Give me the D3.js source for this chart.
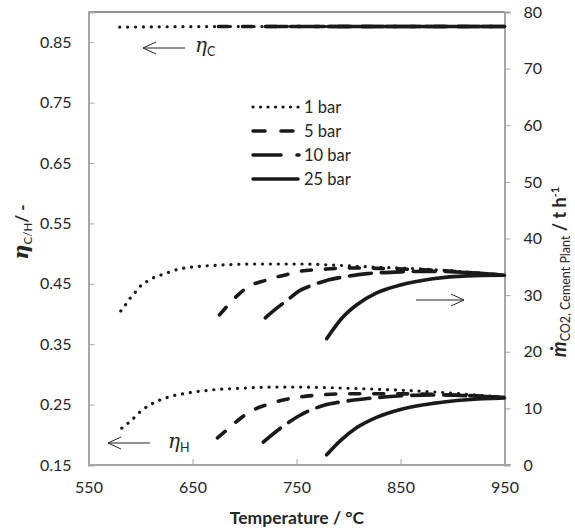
<!DOCTYPE html>
<html>
<head>
<meta charset="utf-8">
<script src="https://cdn.jsdelivr.net/npm/d3@7"></script>
<style>
  body { margin: 0; background: #fff; }
  text { font-family: Lato, "Open Sans", sans-serif; fill: #262626; }
</style>
</head>
<body>
<div id="chart"></div>
<script>
// temperatures / values
var xTicks = [550, 650, 750, 850, 950];
var leftTicks = [0.15, 0.25, 0.35, 0.45, 0.55, 0.65, 0.75, 0.85];
var rightTicks = [0, 10, 20, 30, 40, 50, 60, 70, 80];
var pressures = ["1 bar", "5 bar", "10 bar", "25 bar"];

// cold efficiency (left axis)
var etaC1 = [[580, 0.875], [700, 0.876], [950, 0.876]];
var etaC5 = [[675, 0.876], [800, 0.876], [950, 0.876]];
var etaC10 = [[720, 0.876], [850, 0.876], [950, 0.876]];
var etaC25 = [[780, 0.876], [870, 0.876], [950, 0.876]];

// hot efficiency (left axis)
var etaH1 = [[582, 0.211], [590, 0.222], [601, 0.240], [614, 0.254], [628, 0.263], [645, 0.269], [667, 0.274], [696, 0.277], [727, 0.279], [753, 0.279], [801, 0.277], [872, 0.272], [950, 0.262]];
var etaH5 = [[674, 0.195], [683, 0.208], [696, 0.227], [705, 0.238], [720, 0.249], [731, 0.255], [747, 0.261], [773, 0.266], [801, 0.268], [840, 0.268], [900, 0.266], [950, 0.262]];
var etaH10 = [[718, 0.188], [737, 0.214], [753, 0.232], [779, 0.250], [795, 0.255], [818, 0.260], [837, 0.263], [881, 0.266], [950, 0.262]];
var etaH25 = [[779, 0.167], [792, 0.190], [808, 0.212], [827, 0.229], [850, 0.242], [881, 0.252], [914, 0.258], [950, 0.261]];

// CO2 flow of cement plant (right axis)
var mCO2_1 = [[581, 27.2], [586, 28.4], [591, 29.7], [596, 30.7], [601, 31.8], [607, 32.5], [614, 33.2], [622, 33.7], [637, 34.6], [652, 35.0], [676, 35.3], [710, 35.5], [753, 35.5], [785, 35.3], [818, 35.0], [872, 34.6], [950, 33.5]];
var mCO2_5 = [[676, 26.5], [684, 28.2], [696, 30.4], [703, 31.4], [720, 32.6], [731, 33.2], [747, 33.9], [753, 34.2], [779, 34.6], [801, 34.8], [833, 34.7], [881, 34.4], [950, 33.5]];
var mCO2_10 = [[720, 26.0], [731, 27.7], [741, 29.1], [753, 30.8], [766, 31.8], [779, 32.6], [795, 33.2], [818, 33.8], [850, 34.1], [881, 34.2], [950, 33.5]];
var mCO2_25 = [[779, 22.3], [794, 26.0], [808, 28.3], [827, 30.4], [850, 31.8], [881, 32.9], [914, 33.4], [950, 33.5]];

var W = 575, H = 529;
var padLeft = 88.5, padRight = 504.5, padTop = 12, padBottom = 465;

var svg = d3.select("#chart").append("svg").attr("width", W).attr("height", H);

var x = d3.scaleLinear().domain([550, 950]).range([padLeft, padRight]);
var yL = d3.scaleLinear().domain([0.15, 0.9]).range([padBottom, padTop]);
var yR = d3.scaleLinear().domain([0, 80]).range([padBottom, padTop]);

// line styles per pressure
var styles = [
    {dash: "0.1,7.8", width: 3.2, cap: "round"},
    {dash: "10,14", width: 3.6, cap: "round"},
    {dash: "22,10", width: 3.6, cap: "round"},
    {dash: null, width: 3.6, cap: "round"}
];

function drawSeries(pts, yScale, st) {
    var line = d3.line()
        .x(function(d) { return x(d[0]); })
        .y(function(d) { return yScale(d[1]); })
        .curve(d3.curveMonotoneX);
    var p = svg.append("path")
        .datum(pts)
        .attr("d", line)
        .attr("fill", "none")
        .attr("stroke", "#1a1a1a")
        .attr("stroke-width", st.width)
        .attr("stroke-linecap", st.cap);
    if (st.dash) p.attr("stroke-dasharray", st.dash);
}

// axes frame
var gridColor = "#a6a6a6";
svg.append("line").attr("x1", padLeft).attr("x2", padRight).attr("y1", padTop).attr("y2", padTop)
    .attr("stroke", "#222").attr("stroke-width", 1);

var xAxis = svg.append("g").attr("transform", "translate(0," + padBottom + ")")
    .call(d3.axisBottom(x).tickValues(xTicks).tickSize(-6).tickPadding(14).tickFormat(d3.format("d")));
var yAxisL = svg.append("g").attr("transform", "translate(" + padLeft + ",0)")
    .call(d3.axisLeft(yL).tickValues(leftTicks).tickSize(-6).tickPadding(17).tickFormat(d3.format(".2f")));
var yAxisR = svg.append("g").attr("transform", "translate(" + padRight + ",0)")
    .call(d3.axisRight(yR).tickValues(rightTicks).tickSize(6).tickPadding(13).tickFormat(d3.format("d")));

[xAxis, yAxisL, yAxisR].forEach(function(g) {
    g.select(".domain").attr("stroke", gridColor).attr("stroke-width", 2);
    g.selectAll(".tick line").attr("stroke", gridColor).attr("stroke-width", 1);
    g.selectAll(".tick text").style("font-size", "16px").style("font-family", "Lato, 'Open Sans', sans-serif").attr("fill", "#262626");
});
xAxis.selectAll(".tick text").attr("dy", "0.85em");
// hide the inward tick at the two ends of the x axis
xAxis.selectAll(".tick line").filter(function(d) { return d == 550 || d == 950; }).remove();
xAxis.select(".domain").attr("d", "M" + padLeft + ",0H" + (padRight + 6));

// curves
var etaC = [etaC1, etaC5, etaC10, etaC25];
var etaH = [etaH1, etaH5, etaH10, etaH25];
var mCO2 = [mCO2_1, mCO2_5, mCO2_10, mCO2_25];
for (var i = 0; i < 4; i++) {
    drawSeries(etaC[i], yL, styles[i]);
    drawSeries(etaH[i], yL, styles[i]);
    drawSeries(mCO2[i], yR, styles[i]);
}

// legend
var legY = [107, 131, 155, 179];
for (var j = 0; j < pressures.length; j++) {
    var st = styles[j];
    var l = svg.append("line")
        .attr("x1", 253).attr("x2", st.dash ? 299 : 298)
        .attr("y1", legY[j]).attr("y2", legY[j])
        .attr("stroke", "#1a1a1a").attr("stroke-width", st.width)
        .attr("stroke-linecap", st.cap);
    if (j == 0) l.attr("stroke-dasharray", "0.1,7.4");
    if (j == 1) l.attr("stroke-dasharray", "12,16");
    if (j == 2) l.attr("stroke-dasharray", "28,16");
    svg.append("text").attr("x", 304).attr("y", legY[j] + 6)
        .style("font-size", "16.5px").text(pressures[j]);
}

// arrows with labels
function arrow(x1, x2, y, dir) {
    svg.append("line").attr("x1", x1).attr("x2", x2).attr("y1", y).attr("y2", y)
        .attr("stroke", "#222").attr("stroke-width", 1);
    var tip = dir < 0 ? x1 : x2;
    var s = dir < 0 ? 1 : -1;
    svg.append("path")
        .attr("d", "M" + (tip + s * 13) + "," + (y - 6) + "L" + tip + "," + y + "L" + (tip + s * 13) + "," + (y + 6))
        .attr("fill", "none").attr("stroke", "#222").attr("stroke-width", 1);
}
arrow(143, 185, 48, -1);
arrow(108, 150, 443, -1);
arrow(416, 464, 300, 1);

function etaLabel(xp, yp, sub) {
    var t = svg.append("text").attr("x", xp).attr("y", yp);
    t.append("tspan").style("font-size", "20px").style("font-style", "italic").style("font-family", "'DejaVu Serif', serif").text("η");
    t.append("tspan").attr("dy", 4).style("font-size", "12.5px").text(sub);
}
etaLabel(195, 52, "C");
etaLabel(168, 448, "H");

// x axis title
svg.append("text").attr("x", 297).attr("y", 524).attr("text-anchor", "middle")
    .style("font-size", "17.5px").style("font-weight", "bold").text("Temperature / °C");

// left axis title
var tl = svg.append("text").attr("transform", "translate(28,232) rotate(-90)").attr("text-anchor", "middle")
    .style("font-weight", "bold");
tl.append("tspan").style("font-size", "21px").style("font-style", "italic").style("font-family", "'DejaVu Serif', serif").text("η");
tl.append("tspan").attr("dy", 4).style("font-size", "11.5px").style("font-weight", "normal").text("C/H");
tl.append("tspan").attr("dy", -4).style("font-size", "17px").text("/ -");

// right axis title
var tr = svg.append("text").attr("transform", "translate(566,272) rotate(-90)").attr("text-anchor", "middle")
    .style("font-weight", "bold");
tr.append("tspan").style("font-size", "20px").style("font-style", "italic").text("ṁ");
tr.append("tspan").attr("dy", 4).style("font-size", "12.5px").style("font-weight", "normal").text("CO2, Cement Plant");
tr.append("tspan").attr("dy", -4).style("font-size", "18px").text(" / t h");
tr.append("tspan").attr("dy", -7).style("font-size", "11px").text("-1");
</script>
</body>
</html>
